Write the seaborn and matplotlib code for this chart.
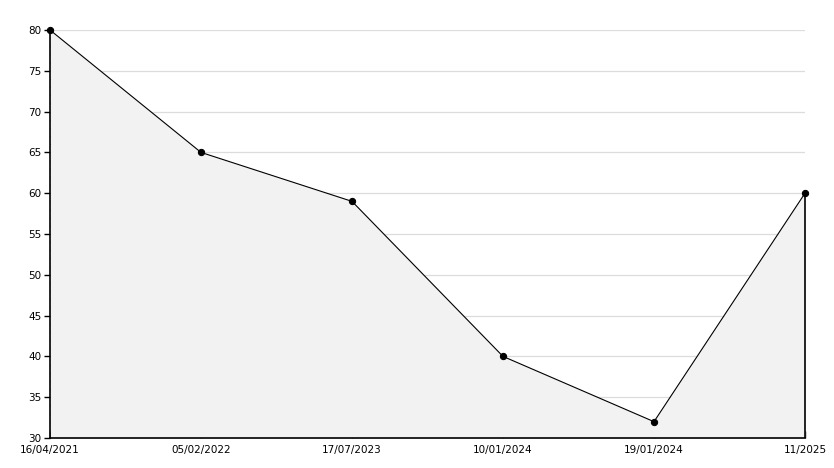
import numpy as np
import pandas as pd
import matplotlib
matplotlib.use("Agg")
import matplotlib.pyplot as plt
import seaborn as sns
from matplotlib.ticker import MultipleLocator

dates = ["16/04/2021", "05/02/2022", "17/07/2023", "10/01/2024", "19/01/2024", "11/2025"]
values = [80, 65, 59, 40, 32, 60]

df = pd.DataFrame({"pos": np.arange(len(dates)), "value": values})

sns.set_style("white")
plt.rcParams["font.family"] = ["DejaVu Sans"]

fig = plt.figure(figsize=(8.34, 4.68), dpi=100)
ax = fig.add_axes([50 / 834, 30 / 468, 755 / 834, 408 / 468])

ax.yaxis.set_major_locator(MultipleLocator(5))
ax.yaxis.set_minor_locator(MultipleLocator(1))
ax.grid(axis="y", which="major", color="#dcdcdc", lw=0.9)
ax.set_axisbelow(True)

# shaded area under the line, with the closing edge on the right
ax.fill_between(df["pos"], df["value"], 30, color="#f2f2f2", lw=0, zorder=2)
ax.vlines(df["pos"].iloc[-1], 30, df["value"].iloc[-1], color="black", lw=1.2,
          zorder=3, clip_on=False)
sns.lineplot(data=df, x="pos", y="value", ax=ax, color="black", lw=0.8,
             marker="o", markersize=4.5, markeredgecolor="black", zorder=4, clip_on=False)

ax.set_xlim(0, len(dates) - 1)
ax.set_ylim(30, 80)
ax.set_xticks(df["pos"])
ax.set_xticklabels(dates)

for s in ["top", "right"]:
    ax.spines[s].set_visible(False)
for s in ["left", "bottom"]:
    ax.spines[s].set_color("black")
    ax.spines[s].set_linewidth(1.2)
    ax.spines[s].set_zorder(5)

ax.tick_params(axis="y", which="major", direction="out", length=4, width=1, left=True,
               labelsize=7.5, pad=2, colors="black")
ax.tick_params(axis="y", which="minor", direction="in", length=4, width=1, left=True,
               colors="black")
ax.tick_params(axis="x", which="major", direction="in", length=5, width=1, bottom=True,
               labelsize=7.5, pad=5, colors="black")
ax.set_xlabel("")
ax.set_ylabel("")

fig.savefig("out.png", dpi=100)
